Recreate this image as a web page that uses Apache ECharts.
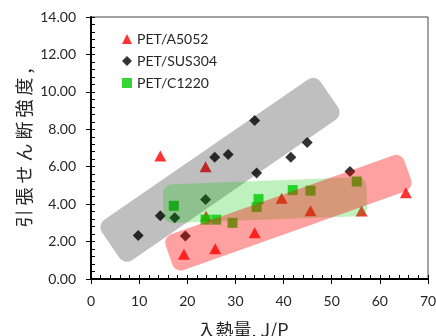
<!DOCTYPE html>
<html>
<head>
<meta charset="utf-8">
<script src="https://cdn.jsdelivr.net/npm/echarts@6/dist/echarts.min.js"></script>
<style>html,body{margin:0;padding:0;background:#fff}#c{width:436px;height:336px}</style>
</head>
<body>
<div id="c"></div>
<script>
// ---- data ----
const seriesNames = ['PET/A5052', 'PET/SUS304', 'PET/C1220'];
const a5052X = [14.4, 23.8, 23.9, 19.3, 25.8, 34.0, 39.6, 45.6, 56.2, 65.4];
const a5052Y = [6.57, 6.00, 3.35, 1.32, 1.62, 2.47, 4.31, 3.65, 3.63, 4.61];
const sus304X = [9.8, 14.4, 17.4, 19.6, 23.8, 25.7, 28.5, 34.0, 34.4, 41.5, 44.9, 53.8];
const sus304Y = [2.33, 3.38, 3.27, 2.30, 4.25, 6.51, 6.65, 8.47, 5.66, 6.50, 7.30, 5.75];
const c1220X = [17.2, 23.8, 26.0, 29.4, 34.4, 34.8, 41.9, 45.6, 55.2];
const c1220Y = [3.91, 3.17, 3.17, 3.00, 3.84, 4.27, 4.75, 4.72, 5.21];
// highlight bands: centre line from [x1,y1] to [x2,y2] in data units
const bandGrey = [4.1, 1.81, 49.5, 9.86];
const bandGreen = [15.0, 4.01, 57.3, 4.41];
const bandRed = [16.2, 1.28, 65.8, 5.81];
const xTicks = [0, 10, 20, 30, 40, 50, 60, 70];
const yTicks = [0, 2, 4, 6, 8, 10, 12, 14];

// ---- styles ----
const bandWidthPx = {grey: 49, green: 39, red: 38};
const bandFill = {grey: 'rgba(0,0,0,0.25)', green: 'rgba(0,200,0,0.25)', red: 'rgba(255,0,0,0.37)'};

function zip(xs, ys) { return xs.map((x, i) => [x, ys[i]]); }

function bandRenderer(key) {
  return function (params, api) {
    const p1 = api.coord([api.value(0), api.value(1)]);
    const p2 = api.coord([api.value(2), api.value(3)]);
    const dx = p2[0] - p1[0], dy = p2[1] - p1[1];
    const L = Math.hypot(dx, dy), W = bandWidthPx[key];
    return {
      type: 'rect',
      x: (p1[0] + p2[0]) / 2, y: (p1[1] + p2[1]) / 2,
      rotation: Math.atan2(-dy, dx),
      shape: {x: -L / 2, y: -W / 2, width: L, height: W, r: 9},
      style: {fill: bandFill[key]}
    };
  };
}

function bandSeries(key, arr, z) {
  return {
    type: 'custom', name: 'band-' + key, coordinateSystem: 'cartesian2d',
    renderItem: bandRenderer(key), data: [arr], encode: {x: [0, 2], y: [1, 3]},
    z: z, silent: true, clip: false
  };
}

const xMin = xTicks[0], xMax = xTicks[xTicks.length - 1], xInt = xTicks[1] - xTicks[0];
const yMin = yTicks[0], yMax = yTicks[yTicks.length - 1], yInt = yTicks[1] - yTicks[0];
const labelFont = {fontFamily: 'Lato', fontSize: 14, color: '#262626'};

const chart = echarts.init(document.getElementById('c'), null, {renderer: 'canvas'});
chart.setOption({
  animation: false,
  backgroundColor: '#fff',
  grid: {left: 91, right: 8, top: 17, bottom: 57, outerBoundsMode: 'none', containLabel: false,
         show: true, borderColor: '#444', borderWidth: 1, backgroundColor: 'transparent'},
  legend: {
    data: seriesNames, orient: 'vertical', left: 117, top: 27,
    itemWidth: 10, itemHeight: 10, itemGap: 8,
    textStyle: {fontFamily: 'Lato', fontSize: 14, color: '#262626'}
  },
  xAxis: [{
    type: 'value', min: xMin, max: xMax, interval: xInt, position: 'bottom',
    axisLine: {show: true, lineStyle: {color: '#000', width: 2}},
    axisTick: {show: true, inside: true, length: 4, lineStyle: {color: '#000', width: 1}},
    minorTick: {show: true, splitNumber: 5, length: 4, lineStyle: {color: '#000', width: 1}},
    axisLabel: {show: false}, splitLine: {show: false},
    name: '入熱量, J/P', nameLocation: 'middle', nameGap: 42,
    nameTextStyle: {fontFamily: 'Noto Sans CJK JP', fontSize: 18, color: '#262626', padding: [0, 33, 0, 0]}
  }, {
    type: 'value', min: xMin, max: xMax, interval: xInt, position: 'bottom',
    axisLine: {show: false},
    axisTick: {show: true, inside: false, length: 5, lineStyle: {color: '#000', width: 1}},
    axisLabel: Object.assign({show: true, margin: 15}, labelFont),
    splitLine: {show: false}
  }],
  yAxis: [{
    type: 'value', min: yMin, max: yMax, interval: yInt, position: 'left',
    axisLine: {show: true, lineStyle: {color: '#000', width: 2}},
    axisTick: {show: true, inside: true, length: 4, lineStyle: {color: '#000', width: 1}},
    minorTick: {show: true, splitNumber: 5, length: 4, lineStyle: {color: '#000', width: 1}},
    axisLabel: {show: false}, splitLine: {show: false},
    name: '引 張 せ ん 断 強 度 ,', nameLocation: 'middle', nameRotate: 90, nameGap: 58,
    nameTextStyle: {fontFamily: 'Noto Sans CJK JP', fontSize: 18, color: '#262626'}
  }, {
    type: 'value', min: yMin, max: yMax, interval: yInt, position: 'left',
    axisLine: {show: false},
    axisTick: {show: true, inside: false, length: 5, lineStyle: {color: '#000', width: 1}},
    axisLabel: Object.assign({show: true, margin: 15, formatter: v => v.toFixed(2)}, labelFont),
    splitLine: {show: false}
  }],
  series: [
    {name: seriesNames[0], type: 'scatter', data: zip(a5052X, a5052Y), symbol: 'triangle', symbolSize: [12, 11],
     itemStyle: {color: '#ff0000'}, z: 1},
    {name: seriesNames[1], type: 'scatter', data: zip(sus304X, sus304Y), symbol: 'diamond', symbolSize: 11,
     itemStyle: {color: '#000000'}, z: 1},
    {name: seriesNames[2], type: 'scatter', data: zip(c1220X, c1220Y), symbol: 'rect', symbolSize: 10,
     itemStyle: {color: '#00cc00'}, z: 1},
    bandSeries('grey', bandGrey, 10),
    bandSeries('green', bandGreen, 11),
    bandSeries('red', bandRed, 12)
  ]
});
</script>
</body>
</html>
